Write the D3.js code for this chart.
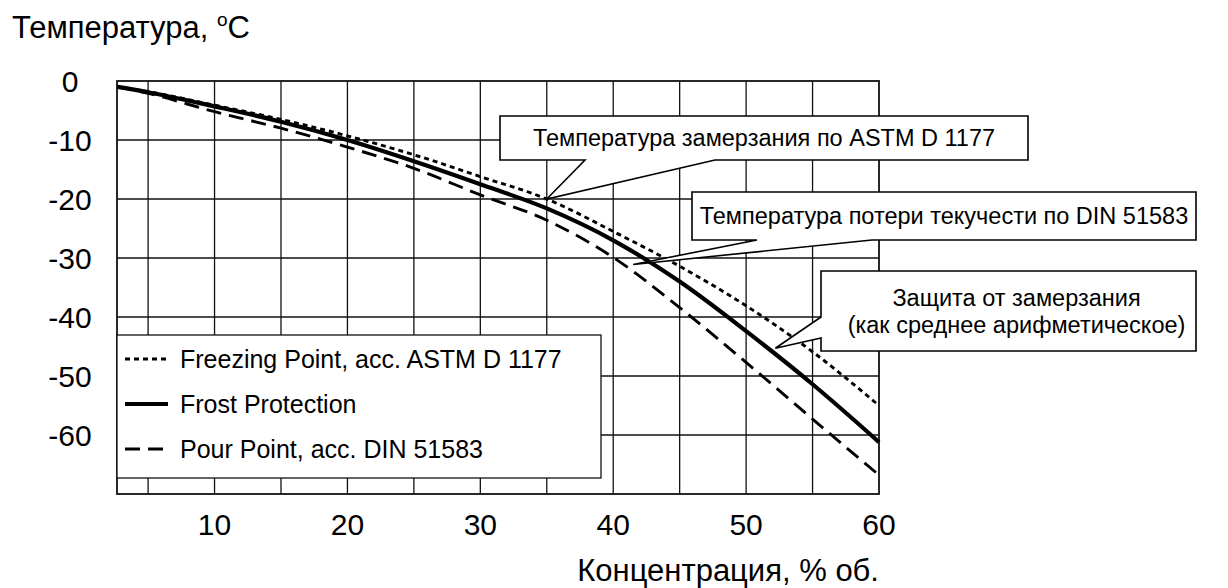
<!DOCTYPE html>
<html>
<head>
<meta charset="utf-8">
<script src="https://cdnjs.cloudflare.com/ajax/libs/d3/7.8.5/d3.min.js"></script>
<style>
    body { margin: 0; background: #fff; }
    svg { display: block; font-family: "Liberation Sans", Arial, Helvetica, sans-serif; }
</style>
</head>
<body>
<div class="box"></div>
<script>
// DATA (concentration, % vol. -> temperature, °C)
const concentration = [2.7, 5, 10, 15, 20, 25, 30, 35, 40, 45, 50, 55, 60];
const freezingPoint = [-1.0, -1.8, -4.1, -6.5, -9.3, -12.5, -16.2, -20.0, -25.5, -31.4, -38.1, -45.9, -55.0];
const frostProtection = [-1.0, -1.9, -4.3, -6.9, -10.0, -13.6, -17.5, -21.6, -27.0, -34.0, -42.4, -51.4, -61.2];
const pourPoint = [-1.0, -2.1, -5.2, -8.0, -11.2, -14.8, -19.3, -23.6, -29.9, -38.4, -47.7, -57.3, -66.8];

const xTicks = [10, 20, 30, 40, 50, 60];
const yTicks = [0, -10, -20, -30, -40, -50, -60];
const xGrid = [5, 10, 15, 20, 25, 30, 35, 40, 45, 50, 55];
const yGrid = [-10, -20, -30, -40, -50, -60];

const legendLabels = ["Freezing Point, acc. ASTM D 1177", "Frost Protection", "Pour Point, acc. DIN 51583"];

// callouts: text lines and the point on the curve they point to
const calloutText = [
    ["Температура замерзания по ASTM D 1177"],
    ["Температура потери текучести по DIN 51583"],
    ["Защита от замерзания", "(как среднее арифметическое)"]
];
const calloutTipX = [35, 41.5, 52.2];
const calloutTipY = [-20.0, -31.1, -45.3];

///////////////////////////////////////////////////////////////

// SVG
const w = 1228;
const h = 588;

const svg = d3.select(".box")
    .append("svg")
    .attr("width", w)
    .attr("height", h);

const x = d3.scaleLinear().domain([2.66, 60]).range([117, 879]);
const y = d3.scaleLinear().domain([0, -70]).range([81, 494]);

const ink = "#111";

///////////////////////////////////////////////////////////////

// GRID
svg.append("g")
    .selectAll("line")
    .data(xGrid)
    .enter()
    .append("line")
    .attr("x1", d => x(d))
    .attr("x2", d => x(d))
    .attr("y1", y(0))
    .attr("y2", y(-70))
    .attr("stroke", ink)
    .attr("stroke-width", 1.3);

svg.append("g")
    .selectAll("line")
    .data(yGrid)
    .enter()
    .append("line")
    .attr("x1", x(2.66))
    .attr("x2", x(60))
    .attr("y1", d => y(d))
    .attr("y2", d => y(d))
    .attr("stroke", ink)
    .attr("stroke-width", 1.3);

// frame
svg.append("rect")
    .attr("x", x(2.66))
    .attr("y", y(0))
    .attr("width", x(60) - x(2.66))
    .attr("height", y(-70) - y(0))
    .attr("fill", "none")
    .attr("stroke", ink)
    .attr("stroke-width", 1.8);

///////////////////////////////////////////////////////////////

// TICK LABELS
svg.append("g")
    .selectAll("text")
    .data(xTicks)
    .enter()
    .append("text")
    .attr("x", d => x(d))
    .attr("y", 535)
    .attr("text-anchor", "middle")
    .attr("font-size", "30px")
    .attr("fill", "#000")
    .text(d => d);

svg.append("g")
    .selectAll("text")
    .data(yTicks)
    .enter()
    .append("text")
    .attr("x", 70)
    .attr("y", d => y(d))
    .attr("dy", "0.36em")
    .attr("text-anchor", "middle")
    .attr("font-size", "30px")
    .attr("fill", "#000")
    .text(d => d);

// axis titles
const yTitle = svg.append("text")
    .attr("x", 12)
    .attr("y", 38)
    .attr("font-size", "31px")
    .attr("fill", "#000");
yTitle.append("tspan").text("Температура, ");
yTitle.append("tspan").attr("font-size", "19px").attr("dy", "-12").text("o");
yTitle.append("tspan").attr("dy", "12").text("C");

svg.append("text")
    .attr("x", 879)
    .attr("y", 581)
    .attr("text-anchor", "end")
    .attr("font-size", "31px")
    .attr("fill", "#000")
    .text("Концентрация, % об.");

///////////////////////////////////////////////////////////////

// LEGEND BOX (covers part of the grid)
const lx0 = x(2.66), lx1 = 601, ly0 = 335, ly1 = 478;
svg.append("rect")
    .attr("x", lx0)
    .attr("y", ly0)
    .attr("width", lx1 - lx0)
    .attr("height", ly1 - ly0)
    .attr("fill", "#fff")
    .attr("stroke", ink)
    .attr("stroke-width", 1.3);

const styles = [
    { width: 2.9, dash: "5,4" },
    { width: 4.2, dash: null },
    { width: 2.9, dash: "15,8" }
];

const legend = svg.append("g")
    .selectAll("g")
    .data(legendLabels)
    .enter()
    .append("g")
    .attr("transform", (d, i) => "translate(0," + (359 + i * 45) + ")");

legend.append("line")
    .attr("x1", 125)
    .attr("x2", 168)
    .attr("stroke", "#000")
    .attr("stroke-width", (d, i) => styles[i].width)
    .attr("stroke-dasharray", (d, i) => styles[i].dash);

legend.append("text")
    .attr("x", 180)
    .attr("dy", "0.35em")
    .attr("font-size", "25px")
    .attr("fill", "#000")
    .text(d => d);

///////////////////////////////////////////////////////////////

// CURVES
const series = [freezingPoint, frostProtection, pourPoint];

const line = d3.line()
    .x(d => x(d[0]))
    .y(d => y(d[1]))
    .curve(d3.curveMonotoneX);

svg.append("g")
    .selectAll("path")
    .data(series)
    .enter()
    .append("path")
    .attr("d", s => line(concentration.map((c, i) => [c, s[i]])))
    .attr("fill", "none")
    .attr("stroke", "#000")
    .attr("stroke-width", (d, i) => styles[i].width)
    .attr("stroke-dasharray", (d, i) => styles[i].dash);

///////////////////////////////////////////////////////////////

// CALLOUTS (box with a wedge pointing to the curve)
const boxes = [
    { x0: 500, x1: 1028, y0: 116, y1: 160, side: "bottom", a: 585, b: 715 },
    { x0: 692, x1: 1196, y0: 192, y1: 240, side: "bottom", a: 757, b: 872 },
    { x0: 821, x1: 1196, y0: 271, y1: 351, side: "left", a: 317, b: 338 }
];

function calloutPath(bx, i) {
    const tx = x(calloutTipX[i]), ty = y(calloutTipY[i]);
    if (bx.side === "bottom") {
        return "M" + bx.x0 + "," + bx.y0 + "H" + bx.x1 + "V" + bx.y1 + "H" + bx.b +
            "L" + tx + "," + ty + "L" + bx.a + "," + bx.y1 + "H" + bx.x0 + "Z";
    }
    return "M" + bx.x0 + "," + bx.y0 + "H" + bx.x1 + "V" + bx.y1 + "H" + bx.x0 +
        "V" + bx.b + "L" + tx + "," + ty + "L" + bx.x0 + "," + bx.a + "Z";
}

const callout = svg.append("g")
    .selectAll("g")
    .data(boxes)
    .enter()
    .append("g");

callout.append("path")
    .attr("d", (d, i) => calloutPath(d, i))
    .attr("fill", "#fff")
    .attr("stroke", "#000")
    .attr("stroke-width", 1.6)
    .attr("stroke-linejoin", "miter");

callout.each(function(bx, i) {
    const lines = calloutText[i];
    const cx = (bx.x0 + bx.x1) / 2 + (lines.length > 1 ? 8 : 0);
    const cy = (bx.y0 + bx.y1) / 2;
    d3.select(this).selectAll("text")
        .data(lines)
        .enter()
        .append("text")
        .attr("x", cx)
        .attr("y", (d, k) => cy + (k - (lines.length - 1) / 2) * 27)
        .attr("dy", "0.36em")
        .attr("text-anchor", "middle")
        .attr("font-size", "23.5px")
        .attr("fill", "#000")
        .text(d => d);
});
</script>
</body>
</html>
